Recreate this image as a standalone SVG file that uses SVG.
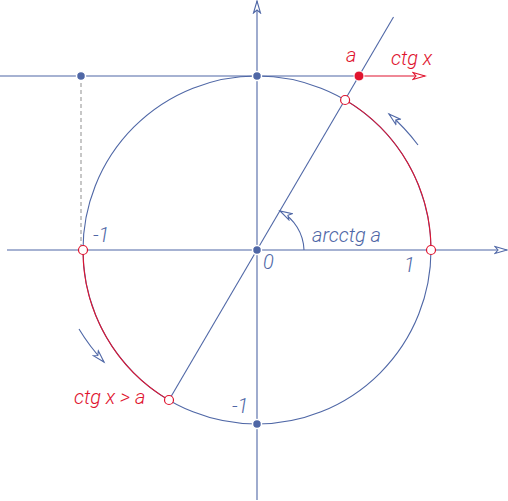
<svg xmlns="http://www.w3.org/2000/svg" width="508" height="501" viewBox="0 0 508 501">
<style>
.b{stroke:#4f67a6;stroke-width:1.1;fill:none}
.r{stroke:#e0132e;stroke-width:1.1;fill:none}
.t{font-family:Roboto,"Liberation Sans",Arial,sans-serif;font-style:italic;font-weight:300;font-size:20px}
.tb{fill:#4f67a6}
.tr{fill:#e0132e}
.dot{fill:#4f67a6;stroke:#fff;stroke-width:1.5}
.hol{fill:#fff;stroke:#e0132e;stroke-width:1.2}
</style>
<defs>
<marker id="ab" markerUnits="userSpaceOnUse" markerWidth="16" markerHeight="10" refX="13" refY="5" orient="auto">
<path d="M1,1.5 L13,5 L1,8.5 L4,5 Z" fill="#fff" stroke="#4f67a6" stroke-width="1.1"/>
</marker>
<marker id="ar" markerUnits="userSpaceOnUse" markerWidth="16" markerHeight="10" refX="13" refY="5" orient="auto">
<path d="M1,1.5 L13,5 L1,8.5 L4,5 Z" fill="#fff" stroke="#e0132e" stroke-width="1.1"/>
</marker>
</defs>
<g id="connectors">
<line class="b" x1="7" y1="250" x2="507" y2="250" marker-end="url(#ab)"/>
<line class="b" x1="257" y1="500" x2="257" y2="1" marker-end="url(#ab)"/>
<line class="b" x1="0" y1="76" x2="359" y2="76"/>
<line class="r" x1="359" y1="76" x2="425" y2="76" marker-end="url(#ar)"/>
<line x1="81" y1="76" x2="81" y2="250" stroke="#9a9a9a" stroke-width="1.1" stroke-dasharray="4,3"/>
<line class="b" x1="169" y1="400" x2="393.5" y2="17"/>
<circle class="b" cx="257" cy="250" r="174"/>
<path class="r" d="M345.1,99.9 A174,174 0 0 1 431,250"/>
<path class="r" d="M83,250 A174,174 0 0 0 168.9,400.1"/>
<path class="b" d="M304,250 A46,46 0 0 0 280,211" marker-end="url(#ab)"/>
<path class="b" d="M418,145 A191,191 0 0 0 389,114" marker-end="url(#ab)"/>
<path class="b" d="M79,329 A192,192 0 0 0 104,362" marker-end="url(#ab)"/>
</g>
<g id="points">
<circle class="dot" cx="81" cy="76" r="4.5"/>
<circle class="dot" cx="257" cy="76" r="4.5"/>
<circle class="dot" cx="257" cy="250" r="4.5"/>
<circle class="dot" cx="257" cy="424" r="4.5"/>
<circle cx="359" cy="76" r="5" fill="#e0132e" stroke="#fff" stroke-width="1"/>
<circle class="hol" cx="345.1" cy="100" r="4.5"/>
<circle class="hol" cx="431" cy="250" r="4.5"/>
<circle class="hol" cx="83" cy="250" r="4.5"/>
<circle class="hol" cx="169" cy="400" r="4.5"/>
</g>
<g id="labels">
<text class="t tr" x="346" y="62">a</text>
<text class="t tr" x="391" y="65">ctg x</text>
<text class="t tb" x="312" y="242">arcctg a</text>
<text class="t tb" x="263" y="269">0</text>
<text class="t tb" x="404" y="272">1</text>
<text class="t tb" x="93" y="242">-1</text>
<text class="t tb" x="232" y="413">-1</text>
<text class="t tr" x="74" y="404">ctg x &gt; a</text>
</g>
</svg>
